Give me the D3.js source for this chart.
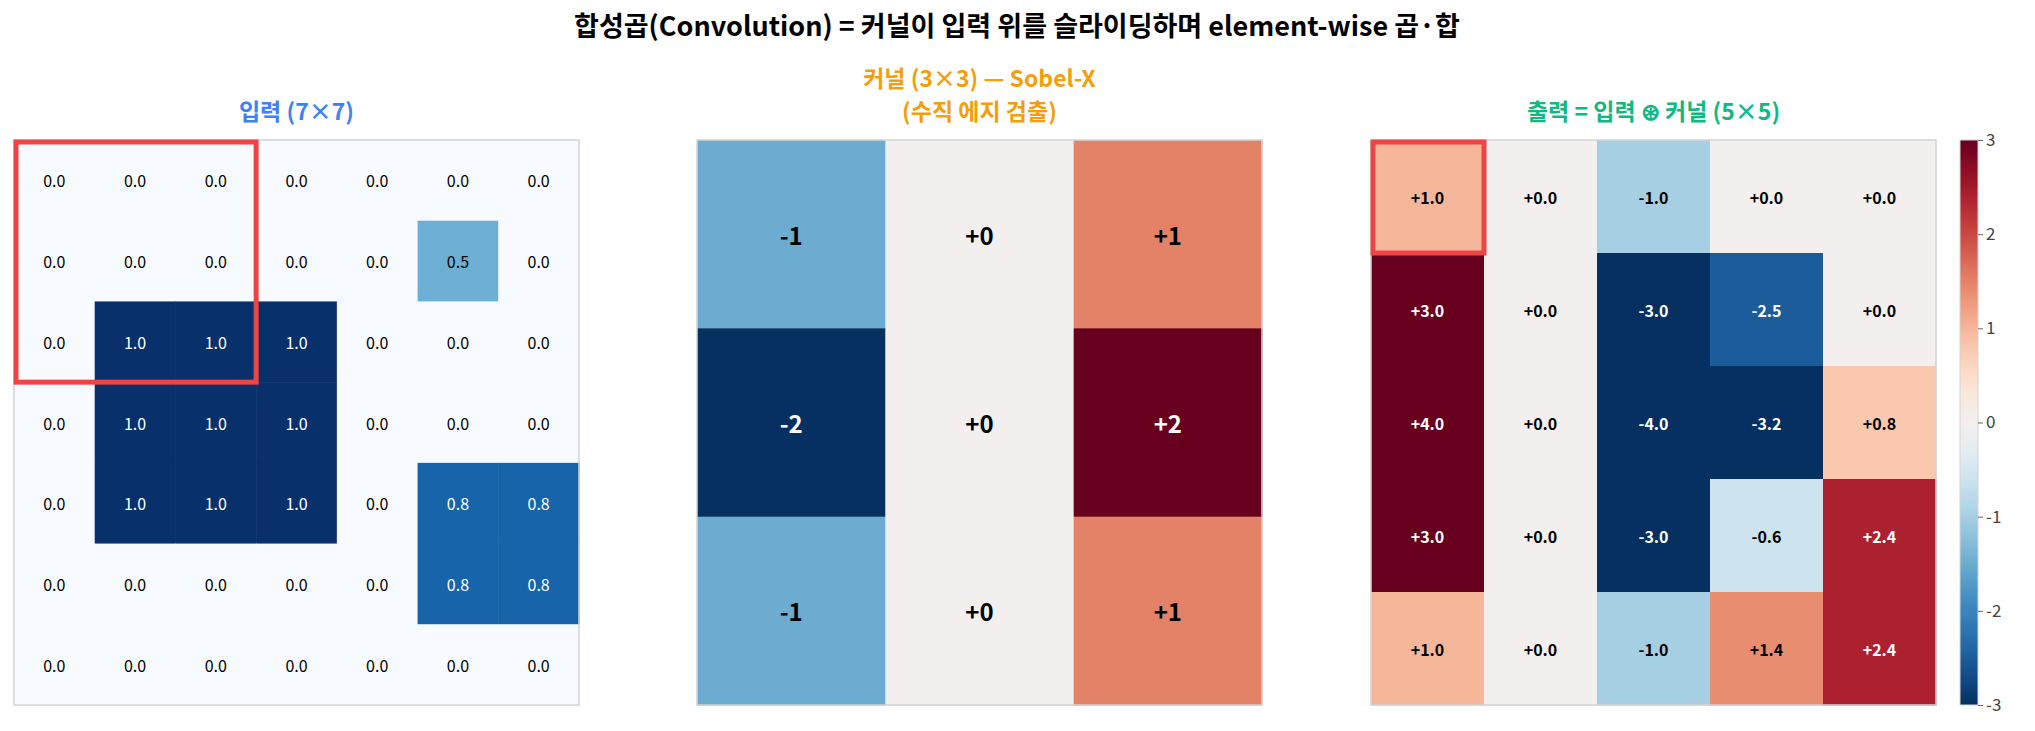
<!DOCTYPE html>
<html><head><meta charset="utf-8">
<script src="https://cdn.jsdelivr.net/npm/d3@7"></script>
<style>body{margin:0;background:#fff;font-family:"Noto Sans CJK KR","Noto Sans",sans-serif}</style>
</head><body><svg id="c" width="2035" height="731"></svg>
<script>
var inputGrid = [
  [0,0,0,0,0,0,0],
  [0,0,0,0,0,0.5,0],
  [0,1,1,1,0,0,0],
  [0,1,1,1,0,0,0],
  [0,1,1,1,0,0.8,0.8],
  [0,0,0,0,0,0.8,0.8],
  [0,0,0,0,0,0,0]
];
var kernelGrid = [[-1,0,1],[-2,0,2],[-1,0,1]];
var outputGrid = [
  [1,0,-1,0,0],
  [3,0,-3,-2.5,0],
  [4,0,-4,-3.2,0.8],
  [3,0,-3,-0.6,2.4],
  [1,0,-1,1.4,2.4]
];
var cbTicks = [-3,-2,-1,0,1,2,3];

var svg = d3.select('#c');
var fam = '"Noto Sans CJK KR","Noto Sans",sans-serif';
var gTop = 140, size = 565;
var rdbu = function(lo, hi) {
  var s = d3.scaleLinear().domain([lo, hi]).range([1, 0]);
  return function(v) { return d3.interpolateRdBu(s(v)); };
};
var fmtLocale = d3.formatLocale({decimal: '.', thousands: ',', grouping: [3], currency: ['', ''], minus: '-'});

function lum(c) { var r = d3.rgb(c); return 0.299*r.r + 0.587*r.g + 0.114*r.b; }

function panel(x0, grid, color, fmt, fsize, weight, title, tcol) {
  var n = grid.length;
  var sc = d3.scaleBand().domain(d3.range(n)).range([0, size]);
  var g = svg.append('g').attr('transform', 'translate(' + x0 + ',' + gTop + ')');
  var cells = [];
  grid.forEach(function(row, r) { row.forEach(function(v, c) { cells.push({r: r, c: c, v: v}); }); });
  g.selectAll('rect.cell').data(cells).enter().append('rect')
    .attr('x', function(d) { return sc(d.c); }).attr('y', function(d) { return sc(d.r); })
    .attr('width', sc.bandwidth() + 0.5).attr('height', sc.bandwidth() + 0.5)
    .attr('fill', function(d) { return color(d.v); });
  g.selectAll('text.v').data(cells).enter().append('text')
    .attr('x', function(d) { return sc(d.c) + sc.bandwidth() / 2; })
    .attr('y', function(d) { return sc(d.r) + sc.bandwidth() / 2; })
    .attr('text-anchor', 'middle').attr('dominant-baseline', 'central')
    .attr('font-size', fsize).attr('font-weight', weight).attr('font-family', fam)
    .attr('fill', function(d) { return lum(color(d.v)) < 120 ? '#fff' : '#000'; })
    .text(function(d) { return fmt(d.v); });
  g.append('rect').attr('width', size).attr('height', size)
    .attr('fill', 'none').attr('stroke', '#d3d3d3').attr('stroke-width', 1.5);
  var lines = title.length;
  title.forEach(function(t, i) {
    svg.append('text').attr('x', x0 + size / 2).attr('y', gTop - 20 - (lines - 1 - i) * 33)
      .attr('text-anchor', 'middle').attr('font-size', 23).attr('font-weight', 'bold')
      .attr('font-family', fam).attr('fill', tcol).text(t);
  });
  return {g: g, sc: sc};
}

svg.append('text').attr('x', 1017).attr('y', 36).attr('text-anchor', 'middle')
  .attr('font-size', 27).attr('font-weight', 'bold').attr('font-family', fam)
  .text('합성곱(Convolution) = 커널이 입력 위를 슬라이딩하며 element-wise 곱·합');

var blues = d3.scaleSequential(d3.interpolateBlues).domain([0, 1]);
var p1 = panel(14, inputGrid, function(v) { return blues(v); }, fmtLocale.format('.1f'), 16, 'normal', ['입력 (7×7)'], '#3b82f6');
p1.g.append('rect').attr('x', 2).attr('y', 2)
  .attr('width', p1.sc.step() * 3 - 2).attr('height', p1.sc.step() * 3 - 2)
  .attr('fill', 'none').attr('stroke', '#ef4444').attr('stroke-width', 5);

var signed0 = fmtLocale.format('+d');
panel(697, kernelGrid, rdbu(-2, 2), signed0, 24, 'bold', ['커널 (3×3) — Sobel-X', '(수직 에지 검출)'], '#f59e0b');

var outColor = rdbu(-3, 3);
var signed1 = fmtLocale.format('+.1f');
var p3 = panel(1371, outputGrid, outColor, signed1, 16, 'bold', ['출력 = 입력 ⊛ 커널 (5×5)'], '#10b981');
p3.g.append('rect').attr('x', 2).attr('y', 2)
  .attr('width', p3.sc.step() - 2).attr('height', p3.sc.step() - 2)
  .attr('fill', 'none').attr('stroke', '#ef4444').attr('stroke-width', 5);

// colorbar
var cbX = 1960, cbW = 18;
var cy = d3.scaleLinear().domain([-3, 3]).range([gTop + size, gTop]);
var defs = svg.append('defs');
var grad = defs.append('linearGradient').attr('id', 'cb').attr('x1', 0).attr('y1', 1).attr('x2', 0).attr('y2', 0);
d3.range(0, 1.01, 0.05).forEach(function(t) {
  grad.append('stop').attr('offset', t).attr('stop-color', outColor(-3 + 6 * t));
});
svg.append('rect').attr('x', cbX).attr('y', gTop).attr('width', cbW).attr('height', size)
  .attr('fill', 'url(#cb)').attr('stroke', '#d3d3d3');
var ax = svg.append('g').attr('transform', 'translate(' + (cbX + cbW) + ',0)')
  .call(d3.axisRight(cy).tickValues(cbTicks).tickSize(5).tickFormat(fmtLocale.format('d')));
ax.select('.domain').remove();
ax.selectAll('line').attr('stroke', '#666');
ax.selectAll('text').attr('font-size', 17).attr('fill', '#444').attr('font-family', fam);
</script></body></html>
